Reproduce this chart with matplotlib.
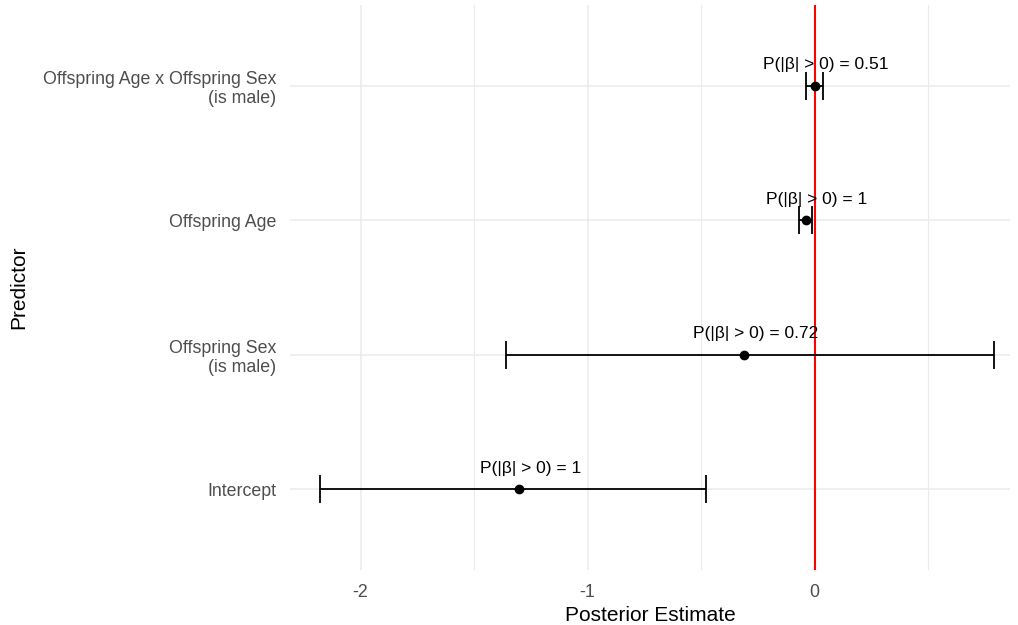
import matplotlib.pyplot as plt
from matplotlib.ticker import MultipleLocator

# posterior summaries, bottom to top
predictors = ["Intercept", "Offspring Sex\n(is male)", "Offspring Age",
              "Offspring Age x Offspring Sex\n(is male)"]
estimates = [-1.30, -0.31, -0.04, 0.0]
lower = [-2.18, -1.36, -0.07, -0.04]
upper = [-0.48, 0.79, -0.01, 0.035]
prob_labels = ["P(|β| > 0) = 1", "P(|β| > 0) = 0.72", "P(|β| > 0) = 1",
               "P(|β| > 0) = 0.51"]

plt.rcParams['font.family'] = ['Liberation Sans', 'DejaVu Sans']
plt.rcParams['axes.unicode_minus'] = False

fig = plt.figure(figsize=(10.18, 6.25), dpi=100)
ax = fig.add_axes([0.285, 0.088, 0.707, 0.904])

ypos = list(range(1, len(predictors) + 1))
xerr = [[e - l for e, l in zip(estimates, lower)],
        [u - e for e, u in zip(estimates, upper)]]

ax.axvline(0, color='red', lw=1.5, zorder=3)
ax.errorbar(estimates, ypos, xerr=xerr, fmt='o', color='black', ms=6,
            elinewidth=1.3, capsize=10, capthick=1.3, zorder=4)

for x, y, lab in zip(estimates, ypos, prob_labels):
    ax.annotate(lab, (x, y), xytext=(8, 15), textcoords='offset points',
                ha='center', va='center', fontsize=12.5, color='black', zorder=5)

ax.set_xlim(-2.31, 0.86)
ax.set_ylim(0.4, 4.6)
ax.xaxis.set_major_locator(MultipleLocator(1))
ax.xaxis.set_minor_locator(MultipleLocator(0.5))
ax.set_yticks(ypos, predictors)

ax.grid(which='major', color='#EBEBEB', lw=1.1)
ax.grid(which='minor', axis='x', color='#EBEBEB', lw=0.8)
ax.set_axisbelow(True)
for s in ax.spines.values():
    s.set_visible(False)
ax.tick_params(which='both', length=0, labelsize=12.8, labelcolor='#4D4D4D', pad=10)
ax.tick_params(axis='y', pad=10)

ax.set_xlabel("Posterior Estimate", fontsize=15, labelpad=4)
ax.set_ylabel("Predictor", fontsize=15)
ax.yaxis.set_label_coords(-0.364, 0.5)

fig.savefig("out.png", dpi=100)
